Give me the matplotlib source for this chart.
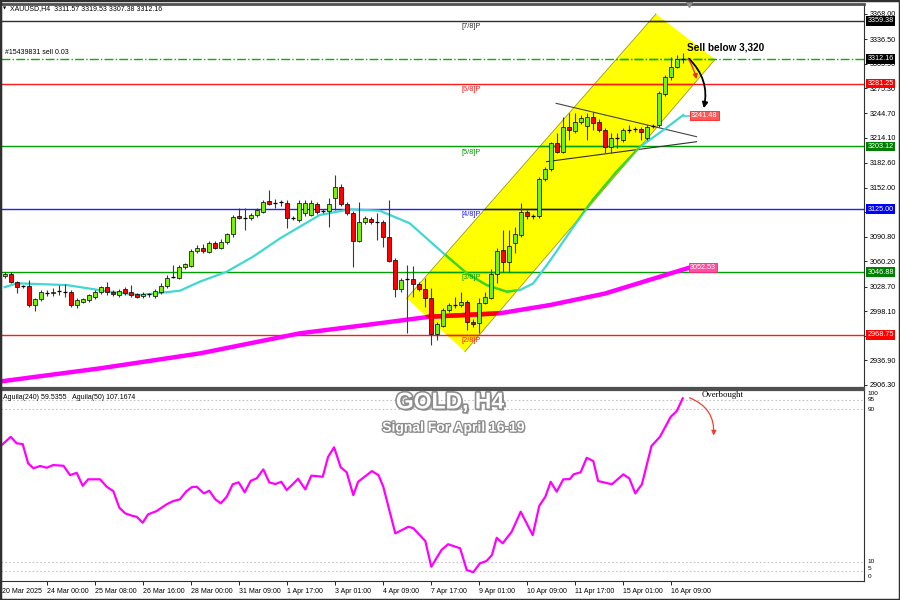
import matplotlib
matplotlib.use('Agg')
import matplotlib.pyplot as plt
import matplotlib.patheffects as pe
from matplotlib.patches import Polygon, Rectangle
from matplotlib.colors import to_rgb
import numpy as np

plt.rcParams['font.family'] = ['Liberation Sans', 'DejaVu Sans']

# ---- XAUUSD H4 candles ----
opens = [3041.5, 3044.0, 3034.8, 3029.5, 3029.5, 3005.8, 3012.9, 3021.2, 3020.4, 3023.3,
         3022.4, 3021.6, 3005.8, 3010.0, 3012.0, 3016.2, 3022.4, 3027.9, 3021.6, 3018.3,
         3025.4, 3021.6, 3019.1, 3017.0, 3019.1, 3017.0, 3022.4, 3029.5, 3041.0, 3039.8,
         3052.8, 3054.8, 3073.4, 3077.1, 3072.2, 3083.4, 3077.1, 3084.6, 3093.8, 3116.6,
         3114.5, 3113.7, 3117.8, 3121.9, 3135.3, 3132.4, 3133.2, 3133.2, 3113.7, 3111.6,
         3120.0, 3118.0, 3131.2, 3122.8, 3122.8, 3138.6, 3153.1, 3131.2, 3120.7, 3085.5,
         3109.5, 3112.5, 3109.5, 3108.7, 3090.1, 3061.8, 3025.4, 3037.8, 3037.8, 3031.6,
         3025.4, 3014.9, 2969.6, 2980.1, 2999.6, 3005.8, 3005.8, 3010.0, 2985.1, 2983.0,
         3008.0, 3014.9, 3044.4, 3074.3, 3059.7, 3082.6, 3093.0, 3121.9, 3116.6, 3116.6,
         3162.3, 3174.7, 3207.1, 3196.6, 3227.7, 3222.8, 3233.9, 3228.6, 3239.4, 3233.9,
         3223.6, 3202.9, 3213.3, 3211.2, 3223.6, 3224.5, 3224.5, 3213.3, 3228.6, 3229.8,
         3268.4, 3289.2, 3302.4, 3311.57]
highs = [3047.0, 3047.3, 3036.0, 3031.0, 3036.9, 3015.0, 3024.0, 3025.0, 3027.0, 3030.7,
         3032.0, 3024.0, 3014.0, 3015.0, 3020.0, 3025.0, 3030.0, 3034.8, 3024.0, 3026.0,
         3028.0, 3030.7, 3021.0, 3022.0, 3021.0, 3026.0, 3033.0, 3043.0, 3055.6, 3055.0,
         3058.0, 3075.0, 3081.0, 3082.0, 3086.0, 3086.0, 3088.0, 3095.0, 3118.0, 3126.2,
         3126.2, 3120.0, 3126.0, 3137.0, 3149.0, 3138.0, 3137.0, 3136.0, 3116.0, 3136.0,
         3136.0, 3136.0, 3134.0, 3125.0, 3138.6, 3167.6, 3156.0, 3134.0, 3123.0, 3134.4,
         3116.0, 3115.0, 3120.0, 3112.0, 3136.5, 3064.0, 3040.0, 3055.6, 3054.4, 3034.0,
         3039.0, 3026.6, 2985.0, 3002.0, 3008.0, 3016.2, 3022.4, 3012.0, 2988.0, 3014.2,
         3022.4, 3050.6, 3076.4, 3099.2, 3099.2, 3103.3, 3132.4, 3124.0, 3119.0, 3165.0,
         3178.0, 3209.0, 3219.5, 3240.2, 3244.4, 3244.4, 3242.0, 3244.4, 3246.4, 3237.0,
         3226.0, 3219.5, 3219.5, 3226.0, 3229.8, 3227.0, 3227.7, 3230.0, 3231.0, 3272.0,
         3292.0, 3314.8, 3317.0, 3319.53]
lows = [3040.0, 3033.0, 3020.4, 3027.0, 3003.7, 2998.8, 3011.0, 3017.0, 3017.0, 3018.3,
        3016.0, 3003.0, 3002.0, 3008.0, 3009.0, 3013.0, 3020.0, 3018.3, 3017.0, 3016.0,
        3018.0, 3016.2, 3014.0, 3014.0, 3016.0, 3015.0, 3020.0, 3027.0, 3039.0, 3038.0,
        3051.0, 3053.0, 3071.0, 3070.0, 3070.0, 3075.0, 3075.0, 3082.0, 3091.0, 3112.5,
        3099.2, 3111.0, 3115.0, 3120.0, 3130.0, 3126.0, 3129.0, 3101.3, 3111.0, 3109.0,
        3116.0, 3116.0, 3119.0, 3120.0, 3103.3, 3124.1, 3129.0, 3118.0, 3053.5, 3084.6,
        3107.0, 3107.0, 3086.7, 3078.4, 3059.7, 3016.2, 3022.0, 2970.6, 3016.2, 3023.0,
        3003.7, 2956.0, 2962.3, 2978.0, 2997.0, 3001.7, 3003.7, 2974.8, 2979.0, 2970.6,
        3007.0, 3013.7, 3032.8, 3047.3, 3047.3, 3070.2, 3090.9, 3113.0, 3113.0, 3114.0,
        3160.0, 3172.0, 3194.6, 3194.6, 3211.2, 3219.5, 3231.0, 3211.2, 3223.6, 3221.0,
        3194.6, 3194.6, 3200.8, 3209.0, 3219.5, 3221.0, 3211.2, 3211.0, 3226.0, 3227.0,
        3266.0, 3285.9, 3300.4, 3307.38]
closes = [3044.8, 3034.8, 3027.9, 3029.0, 3005.8, 3012.9, 3022.4, 3021.0, 3022.4, 3023.5,
          3022.6, 3005.8, 3012.0, 3012.9, 3018.3, 3022.4, 3027.9, 3022.4, 3019.1, 3023.6,
          3021.2, 3018.3, 3016.2, 3019.5, 3019.3, 3023.3, 3029.8, 3039.8, 3041.2, 3052.8,
          3056.5, 3073.4, 3077.1, 3073.0, 3083.4, 3077.1, 3084.6, 3093.8, 3115.7, 3114.5,
          3114.7, 3117.8, 3124.1, 3134.4, 3131.2, 3132.2, 3133.4, 3113.7, 3113.9, 3133.2,
          3133.0, 3132.4, 3121.9, 3122.6, 3131.2, 3153.1, 3131.2, 3120.7, 3085.5, 3109.5,
          3113.7, 3109.5, 3109.3, 3090.1, 3061.0, 3025.4, 3036.9, 3037.6, 3031.6, 3025.4,
          3014.9, 2969.6, 2982.2, 2999.6, 3005.8, 3006.0, 3010.0, 2985.1, 2982.2, 3008.0,
          3016.2, 3044.4, 3073.4, 3059.7, 3079.3, 3094.2, 3121.9, 3116.6, 3116.8, 3162.3,
          3174.7, 3207.1, 3196.6, 3227.7, 3223.6, 3233.9, 3238.2, 3240.2, 3232.7, 3223.6,
          3202.9, 3213.3, 3213.5, 3223.6, 3223.8, 3224.3, 3221.5, 3227.7, 3228.8, 3269.3,
          3289.2, 3302.4, 3311.6, 3312.16]

# moving averages (bar, price)
ma_fast_bar = [0, 2, 10.3, 17.5, 22.5, 25.3, 29.2, 32.5, 37, 41.4, 45.9, 49.2, 52.5, 57.5,
               62.5, 67.5, 72.5, 77, 80.3, 83.7, 85.9, 88.1, 90.8, 94.5, 98, 102, 105.9,
               109.8, 113.1]
ma_fast_val = [3028, 3032.8, 3030.7, 3022.4, 3018.3, 3020.4, 3023.6, 3034.8, 3047.3, 3066,
               3088.8, 3103.3, 3117.8, 3124.9, 3123.2, 3107.5, 3074.3, 3045.3, 3030.7, 3022.4,
               3024.5, 3032.8, 3060, 3100, 3136.5, 3172, 3202.8, 3223.6, 3242.3]
ma_slow_bar = [-1, 15.9, 32.6, 49.2, 60.3, 70.9, 82.5, 90.9, 100, 107, 114.2]
ma_slow_val = [2910.4, 2927, 2945.7, 2970.6, 2981, 2991.3, 2995.5, 3005.8, 3020, 3036, 3052.5]

# murray math levels
levels = [3359.38, 3281.25, 3203.12, 3125.00, 3046.88, 2968.75]
level_names = ['[7/8]P', '[6/8]P', '[5/8]P', '[4/8]P', '[3/8]P', '[2/8]P']
level_colors = ['#303030', '#ff1a1a', '#00a000', '#2020ff', '#00a000', '#ff1a1a']
label_bg = ['black', '#ff0000', '#008000', '#0000ff', '#008000', '#ff0000']
sell_price = 3312.16

# yellow channel corners (bar, price)
chan_bar = [67.0, 108.55, 118.4, 76.7]
chan_val = [3014.2, 3368.0, 3311.6, 2947.7]
# triangle lines
tri_up_bar, tri_up_val = [91.9, 115.3], [3256.8, 3215.3]
tri_lo_bar, tri_lo_val = [90.3, 115.3], [3184.2, 3209.0]

price_ticks = [3368.00, 3336.50, 3305.90, 3275.30, 3244.70, 3214.10, 3182.60, 3152.00,
               3121.40, 3090.80, 3060.20, 3028.70, 2998.10, 2967.50, 2936.90, 2906.30]
hidden_ticks = [3121.40, 2967.50]
date_labels = ['24 Mar 00:00', '25 Mar 08:00', '26 Mar 16:00', '28 Mar 00:00',
               '31 Mar 09:00', '1 Apr 17:00', '3 Apr 01:00', '4 Apr 09:00', '7 Apr 17:00',
               '9 Apr 01:00', '10 Apr 09:00', '11 Apr 17:00', '15 Apr 01:00', '16 Apr 09:00']
date_bars = [7, 15, 23, 31, 39, 47, 55, 63, 71, 79, 87, 95, 103, 111]

# Aguila oscillator (bar, value)
ind_bar = [-0.8, 1.0, 2.0, 3.0, 3.9, 4.8, 5.9, 7.0, 8.1, 9.8, 10.9, 12.0, 13.0, 13.9, 15.9,
           17.0, 18.1, 19.1, 20.1, 21.2, 22.0, 23.0, 23.9, 25.3, 27.0, 28.1, 29.2, 30.3,
           31.2, 32.0, 33.2, 34.1, 35.1, 36.0, 37.0, 38.0, 39.0, 40.0, 41.0, 42.0, 43.1,
           44.1, 45.1, 46.1, 47.0, 48.0, 48.9, 50.1, 51.1, 52.0, 53.0, 53.9, 54.9, 56.0,
           57.0, 58.1, 58.9, 61.2, 62.3, 63.1, 65.1, 67.3, 68.1, 70.1, 71.1, 72.8, 73.9,
           75.9, 77.0, 78.1, 79.2, 80.3, 81.2, 82.0, 83.0, 84.5, 86.0, 88.0, 89.1, 90.1,
           91.0, 92.0, 93.1, 94.2, 94.8, 96.0, 97.0, 98.1, 98.9, 101.2, 103.1, 104.1,
           105.1, 106.2, 107.8, 109.2, 111.0, 112.0, 113.0]
ind_val = [70.4, 75.6, 72.2, 71.8, 61.7, 59.1, 60.3, 59.4, 60.8, 60.4, 55.5, 56.7, 49.9,
           53.3, 53.3, 49.4, 47.1, 38.4, 35.4, 34.2, 33.6, 30.5, 34.9, 36.6, 40.2, 41.9,
           42.8, 47.1, 49.2, 49.4, 45.9, 47.3, 42.8, 40.7, 44.1, 50.7, 51.7, 46.5, 52.5,
           53.8, 58.5, 51.7, 50.8, 52.0, 47.7, 50.7, 53.6, 48.0, 55.2, 55.0, 54.6, 65.1,
           70.1, 59.6, 57.0, 45.0, 52.0, 57.6, 55.5, 49.4, 24.9, 28.4, 27.6, 20.9, 7.4,
           16.2, 19.2, 17.1, 5.7, 4.5, 9.2, 10.4, 13.5, 22.6, 19.7, 25.8, 36.3, 24.0, 39.4,
           44.1, 52.0, 46.8, 53.3, 53.4, 55.9, 57.0, 64.6, 62.9, 52.4, 50.7, 55.9, 53.8,
           45.9, 50.7, 70.8, 75.6, 86.1, 89.1, 95.8]


def and_yellow(c):
    # MT4 draws over the channel with a bitwise AND: yellow removes the blue part
    r, g, b = to_rgb(c)
    return (r, g, 0.0)


def fpos(x0, y0, x1, y1):
    return [x0 / 900, 1 - y1 / 600, (x1 - x0) / 900, (y1 - y0) / 600]


fig = plt.figure(figsize=(9, 6), dpi=100)
fig.patch.set_facecolor('white')
ax = fig.add_axes(fpos(1, 4, 864, 388))
ax2 = fig.add_axes(fpos(1, 390, 864, 581))

xmin, xmax = (1 - 4.7) / 6, (864 - 4.7) / 6
ax.set_xlim(xmin, xmax)
ax.set_ylim(2902.55, 3380.4)
ax2.set_xlim(xmin, xmax)
ax2.set_ylim(-0.1, 100.2)

# channel
chan = Polygon(list(zip(chan_bar, chan_val)), closed=True, fc='#ffff00', ec='none', zorder=1)
ax.add_patch(chan)
ax.plot(chan_bar[0:2], chan_val[0:2], color='#9a9a20', lw=0.6, zorder=1.1)
ax.plot(chan_bar[2:4], chan_val[2:4], color='#9a9a20', lw=0.6, zorder=1.1)


def draw_line(xs, ys, color, **kw):
    ax.plot(xs, ys, color=color, **kw)
    ln, = ax.plot(xs, ys, color=and_yellow(color), **kw)
    ln.set_clip_path(chan)


# levels
for lv, nm, col in zip(levels, level_names, level_colors):
    draw_line([xmin, xmax], [lv, lv], col, lw=1.0, zorder=2)
    ax.text(76.2, lv - 2.6, nm, color=col, fontsize=5.3, ha='left', va='top', zorder=5)
draw_line([xmin, xmax], [sell_price, sell_price], '#00b400', lw=1.0, ls='-.', zorder=2)
fig.text(5 / 900, 1 - 53 / 600, '#15439831 sell 0.03', fontsize=5, va='center')

# triangle
ax.plot(tri_up_bar, tri_up_val, color='#454545', lw=0.8, zorder=2.2)
ax.plot(tri_lo_bar, tri_lo_val, color='#303030', lw=0.8, zorder=2.2)

# moving averages
draw_line(ma_slow_bar, ma_slow_val, '#ff00ff', lw=3.2, zorder=2.5, solid_capstyle='butt')
draw_line(ma_fast_bar, ma_fast_val, '#40d8d0', lw=1.6, zorder=2.6)
ax.plot([113.1, 114.4], [3241.48, 3241.48], color='#40d8d0', lw=1.2, zorder=2.6)
ax.text(114.4, 3241.48, '3241.48', fontsize=5.2, color='white', va='center', ha='left',
        zorder=6, bbox=dict(boxstyle='square,pad=0.15', fc='#ff5a5a', ec='#ff2020', lw=0.6))
ax.text(114.2, 3052.53, '3052.53', fontsize=5.2, color='white', va='center', ha='left',
        zorder=6, bbox=dict(boxstyle='square,pad=0.15', fc='#ff4fa0', ec='#ff2080', lw=0.6))

# candles
bars = np.arange(len(opens))
o = np.array(opens)
c = np.array(closes)
ax.vlines(bars, lows, highs, color='#3a3a3a', lw=0.8, zorder=3)
for i in bars:
    if abs(c[i] - o[i]) < 0.8:
        ax.hlines(c[i], i - 0.32, i + 0.32, color='black', lw=0.9, zorder=3.5)
    else:
        col = '#7cf000' if c[i] > o[i] else '#ff0000'
        ax.add_patch(Rectangle((i - 0.32, min(o[i], c[i])), 0.64, abs(c[i] - o[i]),
                               fc=col, ec='black', lw=0.5, zorder=3.5))

# sell annotation
ax.text(113.7, 3326, 'Sell below 3,320', fontsize=7.2, fontweight='bold', ha='left',
        va='center', zorder=7)
ax.annotate('', xy=(116.4, 3247.3), xytext=(113.7, 3314.8), zorder=7,
            arrowprops=dict(arrowstyle='-|>', color='black', lw=1.3, mutation_scale=8,
                            connectionstyle='arc3,rad=-0.3'))
ax.annotate('', xy=(115.4, 3283.4), xytext=(113.7, 3314.8), zorder=7,
            arrowprops=dict(arrowstyle='-|>', color='#e83030', lw=1.0, mutation_scale=7,
                            connectionstyle='arc3,rad=-0.1'))

# header
fig.text(3 / 900, 1 - 9 / 600, '\u25bc', fontsize=3, va='center', family='DejaVu Sans')
fig.text(10 / 900, 1 - 9 / 600, 'XAUUSD,H4  3311.57 3319.53 3307.38 3312.16', fontsize=5,
         va='center')
ax.plot([114.05], [3380.4], marker='v', color='#8c8c8c', ms=5, clip_on=False, zorder=8)

# price axis
ax.set_xticks([])
ax.yaxis.tick_right()
ax.set_yticks(price_ticks)
ax.set_yticklabels(['' if v in hidden_ticks else f'{v:.2f}' for v in price_ticks])
ax.tick_params(axis='y', length=2.5, width=0.6, pad=1.5, labelsize=5.2, colors='#000000')
lab_prices = levels + [sell_price]
lab_cols = label_bg + ['black']
for lv, bg in zip(lab_prices, lab_cols):
    ax.text(1.004, lv, f'{lv:.2f}', transform=ax.get_yaxis_transform(), fontsize=5.2,
            color='white', va='center', ha='left', zorder=9,
            bbox=dict(boxstyle='square,pad=0.18', fc=bg, ec='none'))

for sp in ['left', 'right']:
    ax.spines[sp].set_color('#303030')
    ax2.spines[sp].set_color('#303030')
ax.spines['top'].set_linewidth(2)
ax.spines['top'].set_color('#505050')
ax.spines['bottom'].set_linewidth(1.6)
ax.spines['bottom'].set_color('#505050')
ax2.spines['top'].set_linewidth(1.6)
ax2.spines['top'].set_color('#505050')
ax2.spines['bottom'].set_color('#303030')

# oscillator panel
for lv in [95, 90, 10, 5]:
    ax2.axhline(lv, color='#c4c4c4', ls=(0, (1.5, 2)), lw=0.8, zorder=1)
ax2.plot(ind_bar, ind_val, color='#ff00ff', lw=1.6, zorder=3)
ax2.text(0.002, 0.98, 'Aguila(240) 59.5355   Aguila(50) 107.1674', transform=ax2.transAxes,
         fontsize=5, ha='left', va='top')
ax2.text(116.1, 97.5, 'Overbought', fontsize=6.3, family='Liberation Serif', ha='left',
         va='center')
ax2.annotate('', xy=(118.1, 74.8), xytext=(113.7, 96.6),
             arrowprops=dict(arrowstyle='-|>', color='#f04030', lw=0.9, mutation_scale=7,
                             connectionstyle='arc3,rad=-0.4'))
fx = [pe.SimplePatchShadow(offset=(1.5, -1.5), shadow_rgbFace='#303030', alpha=0.45),
      pe.Stroke(linewidth=2.4, foreground='#8c8c8c'), pe.Normal()]
ax2.text(74.2, 93.9, 'GOLD, H4', fontsize=16.5, fontweight='bold', color='white',
         ha='center', va='center', path_effects=fx, zorder=6)
fx2 = [pe.SimplePatchShadow(offset=(1, -1), shadow_rgbFace='#303030', alpha=0.45),
       pe.Stroke(linewidth=1.8, foreground='#8c8c8c'), pe.Normal()]
ax2.text(74.8, 80.5, 'Signal For April 16-19', fontsize=10, fontweight='bold', color='white',
         ha='center', va='center', path_effects=fx2, zorder=6)
ytr = ax2.get_yaxis_transform()
for txt, v in [('100', 98.6), ('95', 95.0), ('90', 90), ('10', 10), ('5', 6.4), ('0', 2.2)]:
    ax2.text(1.004, v, txt, transform=ytr, fontsize=4.6, ha='left', va='center')
ax2.set_yticks([])

# time axis
ax2.set_xticks(date_bars)
ax2.set_xticklabels(date_labels)
for lab in ax2.get_xticklabels():
    lab.set_ha('left')
ax2.tick_params(axis='x', length=3, width=0.6, pad=2, labelsize=5)
ax2.text(-0.45, -0.035, '20 Mar 2025', transform=ax2.get_xaxis_transform(), fontsize=5,
         ha='left', va='top', clip_on=False)

fig.add_artist(Rectangle((0, 0), 1, 1, transform=fig.transFigure, fill=False,
                         ec='#303030', lw=2.5))

fig.savefig('out.png', dpi=100)
